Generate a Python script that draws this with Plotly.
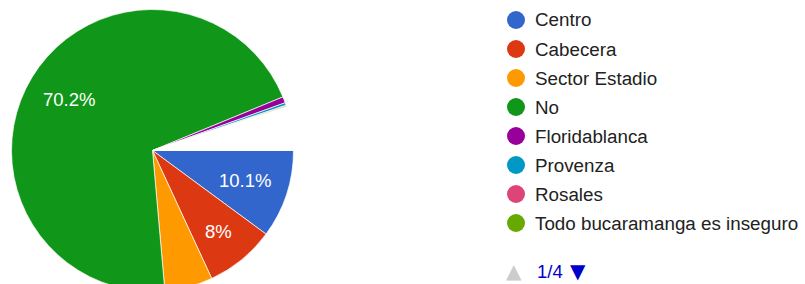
import math
import plotly.graph_objects as go

# ---- data ----
categories = ["Centro", "Cabecera", "Sector Estadio", "No", "Floridablanca",
              "Provenza", "Rosales", "Todo bucaramanga es inseguro"]
percent_values = [10.1, 8.0, 5.5, 70.2, 0.7, 0.3, 0.1, 0.1]
# remaining answers listed on legend pages 2-4 (not readable individually)
other_label = "Otras respuestas"
other_value = 5.0
slice_colors = ["#3366cc", "#dc3912", "#ff9900", "#109618", "#990099",
                "#0099c6", "#dd4477", "#66aa00"]
other_color = "#ffffff"
legend_page = "1/4"

labels = categories + [other_label]
values = percent_values + [other_value]
colors = slice_colors + [other_color]
total = sum(values)

W, H = 805, 300
cx, cy, r = 152.5, 150.5, 141  # pixel centre / radius (from top-left)
start_deg = 0.0  # first slice starts at 3 o'clock, clockwise

fig = go.Figure()
fig.add_trace(go.Pie(
    labels=labels,
    values=values,
    sort=False,
    direction="clockwise",
    rotation=90,
    marker=dict(colors=colors, line=dict(color="#ffffff", width=0.7)),
    textinfo="none",
    hoverinfo="label+percent",
    showlegend=False,
    domain=dict(x=[(cx - r) / W, (cx + r) / W],
                y=[(H - cy - r) / H, (H - cy + r) / H]),
))

annotations = []
shapes = []

# ---- slice percentage labels (placed along each slice's mid angle) ----
cum = 0.0
for v in values:
    frac = v / total
    mid = start_deg + (cum + frac / 2) * 360.0
    cum += frac
    if frac < 0.07:
        continue
    pct = round(frac * 100, 1)
    txt = (f"{pct:.1f}".rstrip("0").rstrip(".")) + "%"
    rad = math.radians(mid)
    rr = 0.69 * r if frac > 0.09 else 0.74 * r
    px = cx + rr * math.cos(rad)
    py = cy + rr * math.sin(rad)
    annotations.append(dict(text=txt, xref="paper", yref="paper",
                            x=px / W, y=(H - py) / H, xanchor="center", yanchor="middle",
                            showarrow=False,
                            font=dict(family="Arial, Liberation Sans, sans-serif",
                                      size=18.5, color="#ffffff")))

# ---- legend (first page of a paginated legend) ----
row0, step = 20, 29
mx, tx, d = 516, 533, 18
for i, (name, col) in enumerate(zip(categories, slice_colors)):
    yc = row0 + i * step
    shapes.append(dict(type="circle", xref="paper", yref="paper",
                       x0=(mx - d / 2) / W, x1=(mx + d / 2) / W,
                       y0=(H - yc - d / 2) / H, y1=(H - yc + d / 2) / H,
                       fillcolor=col, line=dict(width=0)))
    annotations.append(dict(text=name, xref="paper", yref="paper",
                            x=tx / W, y=(H - yc) / H, xanchor="left", yanchor="middle",
                            showarrow=False,
                            font=dict(family="Arial, Liberation Sans, sans-serif",
                                      size=18.8, color="#222222")))

yp = 271
annotations.append(dict(text="▲", xref="paper", yref="paper", x=514 / W, y=(H - yp) / H,
                        xanchor="center", yanchor="middle", showarrow=False,
                        font=dict(family="DejaVu Sans", size=20, color="#cccccc")))
annotations.append(dict(text=legend_page, xref="paper", yref="paper", x=535 / W, y=(H - yp) / H,
                        xanchor="left", yanchor="middle", showarrow=False,
                        font=dict(family="Arial, Liberation Sans, sans-serif",
                                  size=18.5, color="#0000cc")))
annotations.append(dict(text="▼", xref="paper", yref="paper", x=578 / W, y=(H - yp) / H,
                        xanchor="center", yanchor="middle", showarrow=False,
                        font=dict(family="DejaVu Sans", size=20, color="#0000cc")))

fig.update_layout(
    width=W, height=H,
    margin=dict(l=0, r=0, t=0, b=0),
    paper_bgcolor="#ffffff",
    plot_bgcolor="#ffffff",
    shapes=shapes,
    annotations=annotations,
)

fig.write_html("out.html", config={"displayModeBar": False}, post_script=
    "document.body.style.margin='0';document.body.style.overflow='hidden';"
    "document.documentElement.style.overflow='hidden';")
